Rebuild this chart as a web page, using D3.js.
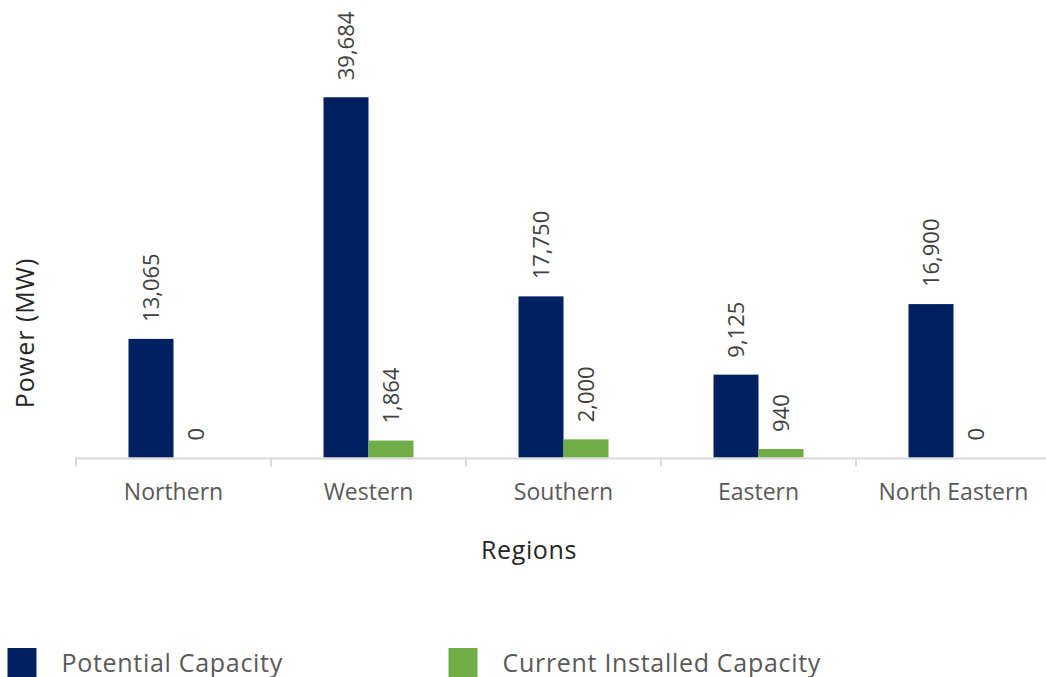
<!DOCTYPE html>
<html>
<head>
<meta charset="utf-8">
<script src="https://cdn.jsdelivr.net/npm/d3@7"></script>
<style>
  html, body { margin: 0; padding: 0; background: #fff; }
  svg { display: block; font-family: "Open Sans", sans-serif; }
</style>
</head>
<body>
<svg id="chart" width="1046" height="677"></svg>
<script>
const categories = ["Northern", "Western", "Southern", "Eastern", "North Eastern"];
const seriesNames = ["Potential Capacity", "Current Installed Capacity"];
const potential = [13065, 39684, 17750, 9125, 16900];
const installed = [0, 1864, 2000, 940, 0];
const colors = ["#002060", "#70ad47"];

const svg = d3.select("#chart");
const W = 1046, H = 677;
const plot = { left: 76, right: 1051, top: 49, bottom: 457.5 };

const x0 = d3.scaleBand().domain(categories).range([plot.left, plot.right])
  .paddingInner(105 / 195).paddingOuter(105 / 390);
const x1 = d3.scaleBand().domain(seriesNames).range([0, x0.bandwidth()]);
const y = d3.scaleLinear().domain([0, 45000]).range([plot.bottom, plot.top]);

const data = categories.map((c, i) => ({ cat: c, values: [potential[i], installed[i]] }));

// bars
const g = svg.append("g");
const groups = g.selectAll("g.grp").data(data).join("g")
  .attr("transform", d => `translate(${x0(d.cat)},0)`);
groups.selectAll("rect").data(d => d.values.map((v, k) => ({ k, v })))
  .join("rect")
  .attr("x", d => x1(seriesNames[d.k]))
  .attr("width", x1.bandwidth())
  .attr("y", d => y(d.v))
  .attr("height", d => y(0) - y(d.v))
  .attr("fill", d => colors[d.k]);

// data labels
const fmt = d3.format(",");
groups.selectAll("text").data(d => d.values.map((v, k) => ({ k, v })))
  .join("text")
  .attr("transform", d => `translate(${x1(seriesNames[d.k]) + x1.bandwidth() / 2 + 7.5},${y(d.v) - 17}) rotate(-90)`)
  .attr("text-anchor", "start")
  .attr("font-size", 22)
  .attr("fill", "#404040")
  .text(d => fmt(d.v));

// x axis
const axis = svg.append("g");
axis.append("line")
  .attr("x1", plot.left).attr("x2", W)
  .attr("y1", plot.bottom + 1).attr("y2", plot.bottom + 1)
  .attr("stroke", "#d9d9d9").attr("stroke-width", 2);
const tickPos = categories.map(c => x0(c) - x0.step() * x0.paddingInner() / 2);
tickPos.push(x0(categories[categories.length - 1]) + x0.bandwidth() + x0.step() * x0.paddingInner() / 2);
axis.selectAll("line.tick").data(tickPos).join("line")
  .attr("class", "tick")
  .attr("x1", d => d).attr("x2", d => d)
  .attr("y1", plot.bottom).attr("y2", plot.bottom + 9)
  .attr("stroke", "#d9d9d9").attr("stroke-width", 2);
axis.selectAll("text").data(categories).join("text")
  .attr("x", d => x0(d) + x0.bandwidth() / 2)
  .attr("y", 500)
  .attr("text-anchor", "middle")
  .attr("font-size", 23)
  .attr("fill", "#595959")
  .text(d => d);

// axis titles
svg.append("text")
  .attr("x", 529).attr("y", 559)
  .attr("text-anchor", "middle")
  .attr("font-size", 25)
  .attr("letter-spacing", 0.6)
  .attr("fill", "#262626")
  .text("Regions");
svg.append("text")
  .attr("transform", "translate(34,333) rotate(-90)")
  .attr("text-anchor", "middle")
  .attr("font-size", 25)
  .attr("letter-spacing", 1)
  .attr("fill", "#262626")
  .text("Power (MW)");

// legend
const legendX = [7.5, 448.5];
const lg = svg.append("g");
seriesNames.forEach((name, k) => {
  lg.append("rect")
    .attr("x", legendX[k]).attr("y", 648)
    .attr("width", 29).attr("height", 29)
    .attr("fill", colors[k]);
  lg.append("text")
    .attr("x", legendX[k] + 54).attr("y", 672)
    .attr("font-size", 25)
    .attr("letter-spacing", 0.7)
    .attr("fill", "#595959")
    .text(name);
});
</script>
</body>
</html>
